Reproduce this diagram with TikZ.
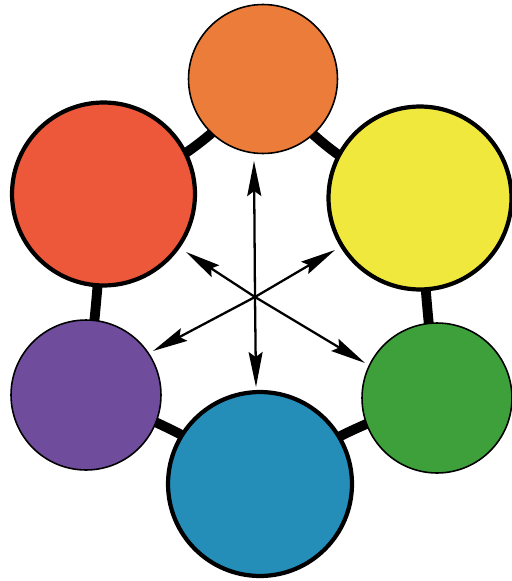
\documentclass[tikz,border=0pt]{standalone}
\usetikzlibrary{arrows.meta,backgrounds}

\definecolor{wheelorange}{RGB}{236,124,58}
\definecolor{wheelred}{RGB}{238,88,58}
\definecolor{wheelyellow}{RGB}{240,232,60}
\definecolor{wheelgreen}{RGB}{62,160,58}
\definecolor{wheelblue}{RGB}{36,142,184}
\definecolor{wheelpurple}{RGB}{112,76,156}

\tikzset{
  bigdisc/.style={circle, draw=black, line width=2.4pt, inner sep=0pt, minimum size=3.66cm},
  smalldisc/.style={circle, draw=black, line width=0.9pt, inner sep=0pt, minimum size=2.98cm},
  ring/.style={draw=black, line width=5.6pt},
  ray/.style={line width=1.3pt, -{Stealth[length=7mm, width=2.8mm, inset=1mm]}}
}

\begin{document}
\begin{tikzpicture}[x=0.02cm, y=-0.02cm]
      \useasboundingbox (0,0) rectangle (511,581);

      % The six colour discs
      \node[smalldisc, fill=wheelorange] (orange) at (263,79) {};
      \node[bigdisc, fill=wheelyellow] (yellow) at (420,198) {};
      \node[smalldisc, fill=wheelgreen, minimum size=3.0cm] (green) at (437,398) {};
      \node[bigdisc, fill=wheelblue, minimum size=3.68cm] (blue) at (260,484) {};
      \node[smalldisc, fill=wheelpurple, minimum size=3.0cm] (purple) at (86,395) {};
      \node[bigdisc, fill=wheelred] (red) at (103.5,194) {};

      % Thick ring joining neighbouring discs, behind them
      \begin{scope}[on background layer]
        \draw[ring] (orange.center) to[bend right=15] (yellow.center);
        \draw[ring] (yellow.center) to[bend right=2] (green.center);
        \draw[ring] (green.center) to[bend right=8] (blue.center);
        \draw[ring] (blue.center) to[bend right=8] (purple.center);
        \draw[ring] (purple.center) to[bend right=2] (red.center);
        \draw[ring] (red.center) to[bend right=15] (orange.center);
      \end{scope}

      % Arrows from the middle towards the discs
      \coordinate (hub) at (255,297);
      \coordinate (tip-orange) at (254,161);
      \coordinate (tip-blue) at (256,387);
      \coordinate (tip-red) at (186,252);
      \coordinate (tip-green) at (365,363);
      \coordinate (tip-yellow) at (335,250);
      \coordinate (tip-purple) at (153,351);
      \foreach \c in {orange,blue,red,green,yellow,purple}
        \draw[ray] (hub) -- (tip-\c);
\end{tikzpicture}
\end{document}
